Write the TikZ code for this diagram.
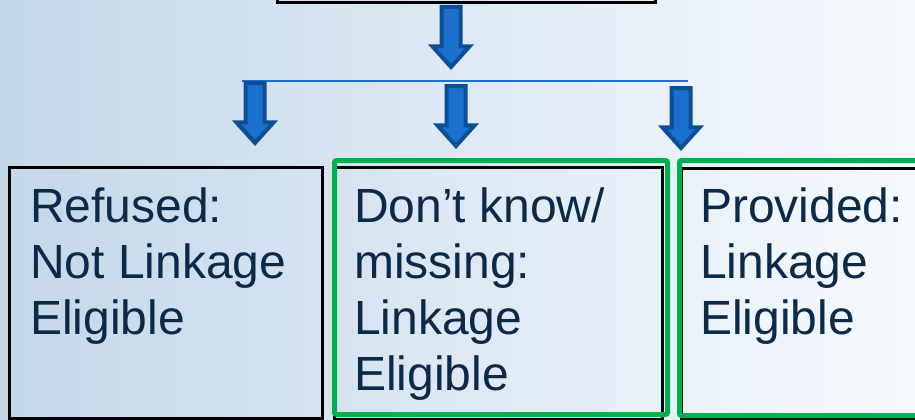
\documentclass[tikz,border=0pt]{standalone}
\usepackage{fontspec}
\setmainfont{Liberation Sans}
\usetikzlibrary{shapes.arrows,positioning}
\definecolor{bgleft}{HTML}{C4D7E8}
\definecolor{bgmid}{HTML}{EDF3FA}
\definecolor{bgright}{HTML}{F6FAFE}
\definecolor{arrowfill}{HTML}{1A70CC}
\definecolor{arrowedge}{HTML}{0D4F96}
\definecolor{okgreen}{HTML}{00B050}
\definecolor{navy}{HTML}{0B2A4A}
\tikzstyle{outcome} = [rectangle, draw=black, line width=2.5pt, anchor=north west, inner sep=0pt]
\tikzstyle{eligible} = [rectangle, rounded corners=2pt, draw=okgreen, line width=5pt, anchor=north west, inner sep=0pt]
\tikzstyle{outtext} = [anchor=north west, inner sep=0pt, align=left, text=navy, font=\fontsize{48}{56}\selectfont]
\tikzstyle{downarrow} = [single arrow, rotate=-90, anchor=tail, draw=arrowedge, fill=arrowfill, line width=4pt, inner xsep=0pt, inner ysep=7.5pt, single arrow head extend=9pt, single arrow tip angle=84, minimum height=60pt]
\tikzstyle{bar} = [draw=arrowfill, line width=2pt]
\begin{document}
\begin{tikzpicture}[x=1pt,y=-1pt]
\useasboundingbox (0,0) rectangle (915,420);
\clip (0,0) rectangle (915,420);
\shade [left color=bgleft, middle color=bgmid, right color=bgright] (0,0) rectangle (915,420);

\node (source) [outcome, minimum width=378pt, minimum height=60pt, anchor=south west] at (276,4) {};

\node (refused) [outcome, minimum width=313pt, minimum height=251pt] at (8,166) {};
\node (unknown) [outcome, minimum width=328pt, minimum height=252pt] at (333,166) {};
\node (provided) [outcome, minimum width=300pt, minimum height=251pt] at (680,167) {};
\node (unknownok) [eligible, minimum width=333pt, minimum height=254pt] at (332,158) {};
\node (providedok) [eligible, minimum width=300pt, minimum height=255pt] at (677,158) {};

\node (refusedtext) [outtext] at (30,188) {Refused:\\Not Linkage\\Eligible};
\node (unknowntext) [outtext] at (354,188) {Don’t know/\\missing:\\Linkage\\Eligible};
\node (providedtext) [outtext] at (700,188) {Provided:\\Linkage\\Eligible};

\coordinate (barleft) at (242,81);
\coordinate (barright) at (688,81);
\draw [bar] (barleft) -- (barright);

\node (split) [downarrow] at (451,5) {};
\node (torefused) [downarrow] at (255,81) {};
\node (tounknown) [downarrow] at (456,84) {};
\node (toprovided) [downarrow] at (681,86) {};
\end{tikzpicture}
\end{document}
